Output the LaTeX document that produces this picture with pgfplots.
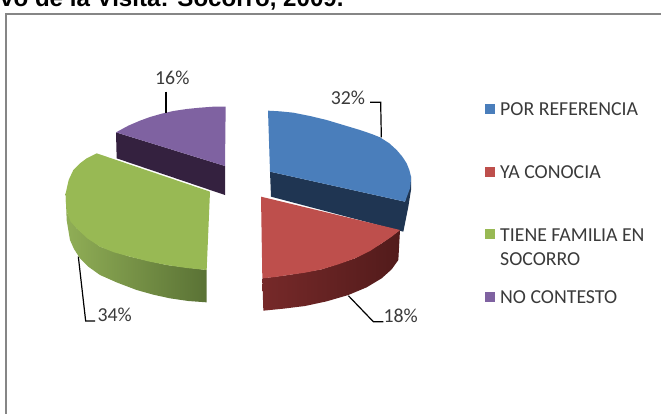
\documentclass[border=0pt]{standalone}
\usepackage{pgfplots}
\pgfplotsset{compat=1.18}
\usepackage{fontspec}
\setmainfont{Carlito}
\newfontfamily\titlefont{Liberation Sans}
\definecolor{pblue}{HTML}{4A7EBB}
\definecolor{pblued}{HTML}{1F3552}
\definecolor{pred}{HTML}{BE4F4C}
\definecolor{predl}{HTML}{762929}
\definecolor{predd}{HTML}{521B1B}
\definecolor{pgreen}{HTML}{98B954}
\definecolor{pgreenl}{HTML}{90AE56}
\definecolor{pgreenm}{HTML}{84A24F}
\definecolor{pgreend}{HTML}{5A7235}
\definecolor{ppurple}{HTML}{7F62A1}
\definecolor{ppurpled}{HTML}{34213F}
\definecolor{frame}{HTML}{868686}
\definecolor{txt}{HTML}{3A3A3A}
\tikzset{lab/.style={inner sep=0pt,anchor=base west,text=txt,font=\fontsize{19.8pt}{23pt}\selectfont}}
\begin{document}
\begin{tikzpicture}
\path[use as bounding box] (0,0) rectangle (661pt,413pt);
\clip (0,0) rectangle (661pt,413pt);
\begin{axis}[at={(0,0)},anchor=south west,scale only axis,width=661pt,height=413pt,
  hide axis,xmin=-120,xmax=1863,ymin=-180,ymax=1059,y dir=reverse,clip=false]
% frame
\addplot[frame,line width=1.5pt] coordinates {(-102,1100) (-102,-138) (1900,-138)};
% purple
\addplot[fill=ppurpled,draw=none] coordinates {(228,217) (555,318) (555,405) (230,295)} -- cycle;
\addplot[fill=ppurple,draw=none] coordinates {(555,318) (557,140) (520,140) (480,143) (440,147) (400,153) (365,161) (330,171) (300,182) (265,197) (228,217)} -- cycle;
% blue
\addplot[fill=pblued,draw=none] coordinates {(690,335) (1095,425) (1113,350) (1113,390) (1105,440) (1090,515) (693,410)} -- cycle;
\addplot[fill=pblue,draw=none] coordinates {(690,335) (684,152) (720,154) (760,158) (810,168) (860,180) (910,195) (960,210) (995,222) (1020,232) (1048,250) (1070,270) (1087,290) (1100,310) (1108,330) (1113,350) (1112,370) (1110,385) (1095,425)} -- cycle;
% red
\addplot[shade,left color=predl,right color=predd,draw=none] coordinates {(667,655) (745,645) (845,628) (945,595) (1025,550) (1080,510) (1075,600) (1055,628) (1025,655) (980,682) (925,705) (860,724) (795,738) (730,746) (670,752)} -- cycle;
\addplot[fill=pred,draw=none] coordinates {(663,410) (667,655) (705,651) (745,645) (795,638) (845,628) (895,613) (945,595) (990,573) (1025,550) (1055,530) (1080,510)} -- cycle;
% green
\addplot[shade,left color=pgreenl,middle color=pgreenm,right color=pgreend,draw=none] coordinates {(77,400) (82,460) (110,505) (180,560) (270,590) (380,615) (500,630) (500,727) (445,723) (390,715) (340,704) (290,690) (232,668) (180,645) (145,620) (120,595) (102,567) (90,540) (80,480)} -- cycle;
\addplot[fill=pgreen,draw=none] coordinates {(510,395) (170,280) (140,295) (120,310) (100,330) (86,360) (77,400) (78,432) (82,460) (92,485) (110,505) (142,535) (180,560) (222,577) (270,590) (325,604) (380,615) (440,624) (500,630)} -- cycle;
% leaders
\addplot[black,line width=1.2pt] coordinates {(990,127) (1022,127) (1024,232)};
\addplot[black,line width=1.2pt] coordinates {(378,95) (378,160)};
\addplot[black,line width=1.2pt] coordinates {(115,590) (137,783) (165,783)};
\addplot[black,line width=1.2pt] coordinates {(925,707) (1000,785) (1030,785)};
% legend keys
\addplot[fill=pblue,draw=none] coordinates {(1335,132) (1365,132) (1365,162) (1335,162)} -- cycle;
\addplot[fill=pred,draw=none] coordinates {(1335,321) (1365,321) (1365,351) (1335,351)} -- cycle;
\addplot[fill=pgreen,draw=none] coordinates {(1335,507) (1365,507) (1365,537) (1335,537)} -- cycle;
\addplot[fill=ppurple,draw=none] coordinates {(1335,696) (1365,696) (1365,726) (1335,726)} -- cycle;
% text
\node[lab] at (axis cs:872,132) {32\%};
\node[lab] at (axis cs:345,73) {16\%};
\node[lab] at (axis cs:172,785) {34\%};
\node[lab] at (axis cs:1030,787) {18\%};
\node[lab] at (axis cs:1380,167) {POR REFERENCIA};
\node[lab] at (axis cs:1380,355) {YA CONOCIA};
\node[lab] at (axis cs:1380,545) {TIENE FAMILIA EN};
\node[lab] at (axis cs:1380,617) {SOCORRO};
\node[lab] at (axis cs:1380,730) {NO CONTESTO};
\node[lab,text=black,font=\titlefont\bfseries\fontsize{24.1pt}{28pt}\selectfont] at (axis cs:-120,-162) {vo de la Visita: Socorro, 2009.};
\end{axis}
\end{tikzpicture}
\end{document}
